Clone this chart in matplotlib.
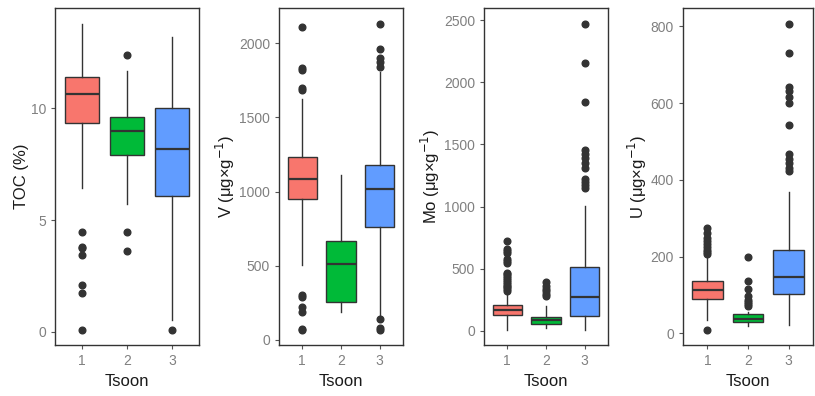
import matplotlib
matplotlib.use("Agg")
import matplotlib.pyplot as plt

plt.rcParams['font.family'] = ['Liberation Sans', 'DejaVu Sans']

groups = ["1", "2", "3"]
colors = ["#F8766D", "#00BA38", "#619CFF"]

# TOC (%)
toc_whislo = [6.45, 5.74, 0.54]
toc_q1 = [9.33, 7.93, 6.06]
toc_med = [10.63, 8.97, 8.17]
toc_q3 = [11.43, 9.6, 10.0]
toc_whishi = [13.8, 11.66, 13.18]
toc_fliers = [[4.48, 3.8, 3.75, 3.45, 2.07, 1.73, 0.09], [12.4, 4.48, 3.6], [0.09]]

# V
v_whislo = [505, 187, 157]
v_q1 = [948, 258, 764]
v_med = [1085, 512, 1020]
v_q3 = [1233, 669, 1182]
v_whishi = [1624, 1112, 1808]
v_fliers = [[2112, 1836, 1820, 1696, 1685, 303, 292, 225, 187, 74, 70],
            [],
            [2130, 1959, 1899, 1876, 1842, 139, 79, 66]]

# Mo
mo_whislo = [8, 24, 8]
mo_q1 = [129, 56, 123]
mo_med = [169, 88, 276]
mo_q3 = [209, 110, 517]
mo_whishi = [310, 200, 1005]
mo_fliers = [[720, 655, 640, 625, 580, 560, 545, 470, 455, 440, 425, 410, 395,
              380, 365, 350, 335, 322],
             [390, 365, 340, 320, 300, 280],
             [2468, 2152, 1843, 1455, 1420, 1390, 1350, 1310, 1220, 1200, 1175, 1150]]

# U
u_whislo = [35, 20, 22]
u_q1 = [89, 30, 103]
u_med = [113, 39, 148]
u_q3 = [137, 50, 217]
u_whishi = [205, 55, 369]
u_fliers = [[274, 262, 250, 240, 232, 225, 218, 212, 207, 10],
            [200, 136, 117, 97, 87, 83, 78, 72],
            [807, 730, 642, 633, 617, 601, 543, 468, 455, 445, 432, 423]]

panels = [
    ("TOC (%)", toc_whislo, toc_q1, toc_med, toc_q3, toc_whishi, toc_fliers, (-0.6, 14.5), [0, 5, 10]),
    ("V (μg×g$^{-1}$)", v_whislo, v_q1, v_med, v_q3, v_whishi, v_fliers, (-34, 2238), [0, 500, 1000, 1500, 2000]),
    ("Mo (μg×g$^{-1}$)", mo_whislo, mo_q1, mo_med, mo_q3, mo_whishi, mo_fliers, (-113, 2597), [0, 500, 1000, 1500, 2000, 2500]),
    ("U (μg×g$^{-1}$)", u_whislo, u_q1, u_med, u_q3, u_whishi, u_fliers, (-30, 848), [0, 200, 400, 600, 800]),
]

positions_px = [(55, 199), (279, 403), (484, 608), (683, 813)]
W, H = 815, 396
top_px, bot_px = 8, 345

fig = plt.figure(figsize=(8.15, 3.96), dpi=100)
for (label, wlo, q1, med, q3, whi, fl, ylim, ticks), (l, r) in zip(panels, positions_px):
    ax = fig.add_axes([l / W, 1 - bot_px / H, (r - l) / W, (bot_px - top_px) / H])
    stats = []
    for i in range(3):
        stats.append(dict(label=groups[i], whislo=wlo[i], q1=q1[i], med=med[i],
                          q3=q3[i], whishi=whi[i], fliers=fl[i]))
    bp = ax.bxp(stats, positions=[1, 2, 3], widths=0.75, patch_artist=True,
                showcaps=False,
                boxprops=dict(edgecolor="#333333", linewidth=1.0),
                medianprops=dict(color="#333333", linewidth=1.6),
                whiskerprops=dict(color="#333333", linewidth=1.0),
                flierprops=dict(marker="o", markerfacecolor="#333333",
                                markeredgecolor="#333333", markersize=4.8))
    for patch, c in zip(bp["boxes"], colors):
        patch.set_facecolor(c)
    ax.set_xlim(0.4, 3.6)
    ax.set_ylim(*ylim)
    ax.set_yticks(ticks)
    ax.set_xticks([1, 2, 3])
    ax.set_xticklabels(groups)
    ax.tick_params(colors="#555555", labelcolor="#808080", labelsize=10, length=3)
    for s in ax.spines.values():
        s.set_color("#333333")
        s.set_linewidth(1.0)
    ax.set_ylabel(label, fontsize=12, color="#1A1A1A", labelpad=1)
    ax.set_xlabel("Tsoon", fontsize=12, color="#1A1A1A")

fig.savefig("out.png", dpi=100)
